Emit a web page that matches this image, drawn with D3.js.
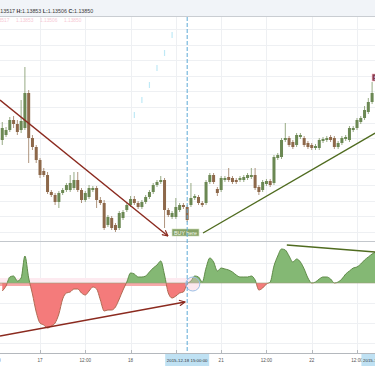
<!DOCTYPE html>
<html>
<head>
<meta charset="utf-8">
<script src="https://cdn.jsdelivr.net/npm/d3@7/dist/d3.min.js"></script>
<style>
html, body { margin: 0; padding: 0; background: #fff; }
svg { display: block; font-family: "Liberation Sans", Arial, sans-serif; }
</style>
</head>
<body>
<svg id="chart" width="375" height="366"></svg>
<script>
// hourly bars, index 0 = 2015-12-17 00:00 (weekend hours skipped)
let firstIndex = -10;

// [open, high, low, close]
let candles = [
  [1.1060, 1.1078, 1.1055, 1.1072], [1.1065, 1.1073, 1.1063, 1.1070], [1.1070, 1.1083, 1.1068, 1.1080],
  [1.1080, 1.1084, 1.1072, 1.1076], [1.1076, 1.1080, 1.1065, 1.1068], [1.1070, 1.1100, 1.1067, 1.1079],
  [1.1072, 1.1133, 1.1070, 1.1107], [1.1107, 1.1110, 1.1037, 1.1062], [1.1062, 1.1065, 1.1050, 1.1053],
  [1.1053, 1.1055, 1.1037, 1.1040],
  [1.1040, 1.1042, 1.1022, 1.1025], [1.1029, 1.1032, 1.1023, 1.1025], [1.1025, 1.1028, 1.1006, 1.1008],
  [1.1008, 1.1010, 1.1003, 1.1005], [1.1005, 1.1007, 1.0995, 1.0998], [1.0998, 1.1009, 1.0992, 1.1007],
  [1.1007, 1.1012, 1.1005, 1.1010], [1.1010, 1.1017, 1.1008, 1.1015], [1.1010, 1.1025, 1.1008, 1.1017],
  [1.1012, 1.1028, 1.1010, 1.1020],
  [1.1020, 1.1028, 1.1008, 1.1010], [1.1010, 1.1012, 1.0997, 1.1000], [1.1000, 1.1009, 1.0998, 1.1007],
  [1.1003, 1.1015, 1.1001, 1.1012], [1.1010, 1.1014, 1.1008, 1.1012], [1.1012, 1.1014, 1.0992, 1.1000],
  [1.1000, 1.1003, 1.0995, 1.0997], [1.0997, 1.1000, 1.0970, 1.0972], [1.0975, 1.0985, 1.0973, 1.0983],
  [1.0982, 1.0984, 1.0970, 1.0972],
  [1.0975, 1.0977, 1.0968, 1.0970], [1.0972, 1.0989, 1.0970, 1.0987], [1.0982, 1.0990, 1.0980, 1.0988],
  [1.0990, 1.0997, 1.0988, 1.0995], [1.0995, 1.1004, 1.0993, 1.1001], [1.1001, 1.1004, 1.0995, 1.0997],
  [1.0997, 1.0999, 1.0991, 1.0993], [1.0993, 1.1000, 1.0991, 1.0998], [1.0998, 1.1005, 1.0996, 1.1003],
  [1.1003, 1.1010, 1.1001, 1.1008],
  [1.1008, 1.1017, 1.1006, 1.1015], [1.1015, 1.1020, 1.1013, 1.1018], [1.1018, 1.1024, 1.1016, 1.1020],
  [1.1020, 1.1022, 1.0972, 1.0990], [1.0990, 1.0992, 1.0983, 1.0985], [1.0983, 1.0989, 1.0981, 1.0987],
  [1.0983, 1.1002, 1.0981, 1.0993], [1.0990, 1.0997, 1.0988, 1.0995], [1.0995, 1.0997, 1.0991, 1.0993],
  [1.0993, 1.0995, 1.0978, 1.0980],
  [1.0995, 1.1017, 1.0993, 1.1002], [1.1002, 1.1006, 1.1000, 1.1004], [1.1003, 1.1005, 1.0995, 1.0997],
  [1.0997, 1.0999, 1.0993, 1.0995], [1.0997, 1.1020, 1.0995, 1.1018], [1.1018, 1.1027, 1.1016, 1.1025],
  [1.1025, 1.1027, 1.1016, 1.1018], [1.1011, 1.1013, 1.1004, 1.1007], [1.1010, 1.1024, 1.1008, 1.1022],
  [1.1020, 1.1024, 1.1018, 1.1022],
  [1.1023, 1.1032, 1.1018, 1.1020], [1.1022, 1.1024, 1.1016, 1.1018], [1.1020, 1.1022, 1.1016, 1.1018],
  [1.1020, 1.1024, 1.1018, 1.1022], [1.1020, 1.1025, 1.1018, 1.1023], [1.1022, 1.1027, 1.1020, 1.1025],
  [1.1023, 1.1032, 1.1021, 1.1025], [1.1025, 1.1032, 1.1010, 1.1012], [1.1013, 1.1015, 1.1005, 1.1008],
  [1.1010, 1.1020, 1.1008, 1.1018],
  [1.1016, 1.1021, 1.1014, 1.1019], [1.1019, 1.1021, 1.1013, 1.1015], [1.1017, 1.1045, 1.1015, 1.1043],
  [1.1042, 1.1047, 1.1040, 1.1045], [1.1043, 1.1062, 1.1041, 1.1060], [1.1060, 1.1077, 1.1058, 1.1062],
  [1.1062, 1.1064, 1.1053, 1.1055], [1.1058, 1.1060, 1.1051, 1.1053], [1.1055, 1.1067, 1.1053, 1.1065],
  [1.1063, 1.1067, 1.1061, 1.1065],
  [1.1062, 1.1064, 1.1053, 1.1055], [1.1057, 1.1059, 1.1051, 1.1053], [1.1055, 1.1057, 1.1050, 1.1052],
  [1.1052, 1.1056, 1.1050, 1.1054], [1.1052, 1.1062, 1.1050, 1.1060], [1.1059, 1.1063, 1.1057, 1.1061],
  [1.1060, 1.1064, 1.1058, 1.1062], [1.1063, 1.1065, 1.1058, 1.1060], [1.1062, 1.1064, 1.1051, 1.1053],
  [1.1053, 1.1059, 1.1051, 1.1057],
  [1.1057, 1.1064, 1.1055, 1.1062], [1.1061, 1.1065, 1.1059, 1.1063], [1.1060, 1.1074, 1.1058, 1.1072],
  [1.1070, 1.1074, 1.1068, 1.1072], [1.1072, 1.1082, 1.1070, 1.1080], [1.1078, 1.1084, 1.1076, 1.1082],
  [1.1082, 1.1094, 1.1080, 1.1090], [1.1088, 1.1102, 1.1086, 1.1098], [1.1098, 1.1118, 1.1096, 1.1107]
];

// oscillator, same hourly index, starting at firstIndex
let oscValues = [
  -8, -3, 6, 7, 2, 5, 27, 5, -11, -29,
  -40, -42, -45, -43, -40, -31, -16, -10, -9, -6,
  -6, -10, -12, -8, -4, -6, -17, -28, -27, -27,
  -24, -16, -7, 1, 10, 9, 6, 6, 7, 11,
  15, 18, 22, 8, -10, -15, -13, -10, -9, -1,
  2, 7, 6, 1, 15, 25, 21, 12, 15, 14,
  13, 11, 8, 6, 6, 6, 7, 3, -7, -5,
  -1, 1, 17, 27, 34, 33, 27, 21, 24, 21,
  14, 5, 0, 1, 4, 6, 6, 4, 0, 1,
  4, 9, 12, 15, 16, 19, 23, 26, 29, 31
];

let tickIndex = [-12, 0, 12, 24, 36, 48, 60, 72, 84];
let tickLabels = ["12:00", "17", "12:00", "18", "12:00", "21", "12:00", "22", "12:00"];

let cursorIndex = 39;
let cursorLabel = "2015-12-18 15:00:00";
let lastIndex = 91;
let lastLabel = "2015-12-22 19:00:00";

let headerKeys = ["O:", "H:", "L:", "C:"];
let headerValues = ["1.13517", "1.13853", "1.13506", "1.13850"];

// drawings: [index, price] / [index, osc value]
let downTrend = [[-10.6, 1.1100], [33.9, 1.0964]];
let upTrend = [[43.2, 1.0967], [88.8, 1.1067]];
let oscUpArrow = [[-10.6, -53], [38.4, -19]];
let oscDownLine = [[65.4, 38], [88.8, 31]];
let buyLabel = { index: 35, price: 1.09675, text: "BUY here" };
let sellLabel = { index: 88, price: 1.11225, text: "SELL here" };
let oscMarker = [40.5, -1];
let ghostTicks = [[25, 1.1085], [27, 1.1100], [29, 1.1115], [31, 1.1132], [33, 1.1147], [35, 1.1165]];

let svg = d3.select("#chart"),
    width = +svg.attr("width"),
    height = +svg.attr("height");

let mainTop = 17, mainBottom = 241, oscTop = 241, oscBottom = 353;

let x = d3.scaleLinear().domain([0, 84]).range([40, 357]);
let y = d3.scaleLinear().domain([1.0960, 1.1183]).range([240, 17]);
let yOsc = d3.scaleLinear().domain([-70, 40]).range([353, 243]);

let defs = svg.append("defs");
defs.append("clipPath").attr("id", "above")
  .append("rect").attr("x", 0).attr("y", oscTop).attr("width", width).attr("height", yOsc(0) - oscTop);
defs.append("clipPath").attr("id", "below")
  .append("rect").attr("x", 0).attr("y", yOsc(0)).attr("width", width).attr("height", oscBottom - yOsc(0));
defs.append("clipPath").attr("id", "mainClip")
  .append("rect").attr("x", 0).attr("y", mainTop).attr("width", width).attr("height", mainBottom - mainTop);

function arrow(id, color) {
  defs.append("marker")
    .attr("id", id)
    .attr("viewBox", "0 0 10 10")
    .attr("refX", 9).attr("refY", 5)
    .attr("markerWidth", 7).attr("markerHeight", 7)
    .attr("markerUnits", "userSpaceOnUse")
    .attr("orient", "auto")
    .append("path")
    .attr("d", "M1,1 L9,5 L1,9")
    .attr("fill", "none")
    .attr("stroke", color)
    .attr("stroke-width", 1.6);
}
arrow("redArrow", "#8b2a1f");

// grid
let grid = svg.append("g");
let priceGrid = d3.range(1.1171, 1.0960, -0.00156);
grid.selectAll(".hg")
  .data(priceGrid)
  .enter().append("line")
  .attr("x1", 0).attr("x2", width)
  .attr("y1", function(d) { return Math.round(y(d)) + 0.5; })
  .attr("y2", function(d) { return Math.round(y(d)) + 0.5; })
  .attr("stroke", "#eef0f3");
grid.selectAll(".og")
  .data([20, -20, -40, -60])
  .enter().append("line")
  .attr("x1", 0).attr("x2", width)
  .attr("y1", function(d) { return Math.round(yOsc(d)) + 0.5; })
  .attr("y2", function(d) { return Math.round(yOsc(d)) + 0.5; })
  .attr("stroke", "#eef0f3");
grid.selectAll(".vg")
  .data(tickIndex)
  .enter().append("line")
  .attr("x1", function(d) { return Math.round(x(d)) + 0.5; })
  .attr("x2", function(d) { return Math.round(x(d)) + 0.5; })
  .attr("y1", mainTop).attr("y2", oscBottom)
  .attr("stroke", "#eef0f3");

// pink band along the zero line left of the cursor
svg.append("rect")
  .attr("x", 0).attr("width", x(cursorIndex))
  .attr("y", yOsc(5)).attr("height", yOsc(0) - yOsc(5))
  .attr("fill", "#fdeaf0");
svg.append("rect")
  .attr("x", 0).attr("width", x(cursorIndex))
  .attr("y", yOsc(0)).attr("height", yOsc(-3) - yOsc(0))
  .attr("fill", "#f6a9a9");

// oscillator
let oscData = oscValues.map(function(v, i) { return { i: firstIndex + i, v: v }; });
let area = d3.area()
  .curve(d3.curveMonotoneX)
  .x(function(d) { return x(d.i); })
  .y0(yOsc(0))
  .y1(function(d) { return yOsc(d.v); });
let line = d3.line()
  .curve(d3.curveMonotoneX)
  .x(function(d) { return x(d.i); })
  .y(function(d) { return yOsc(d.v); });

svg.append("path").datum(oscData)
  .attr("clip-path", "url(#above)")
  .attr("d", area).attr("fill", "#84b874");
svg.append("path").datum(oscData)
  .attr("clip-path", "url(#below)")
  .attr("d", area).attr("fill", "#f47b7b");
svg.append("path").datum(oscData)
  .attr("clip-path", "url(#above)")
  .attr("d", line).attr("fill", "none").attr("stroke", "#5f8b48").attr("stroke-width", 1);
svg.append("path").datum(oscData)
  .attr("clip-path", "url(#below)")
  .attr("d", line).attr("fill", "none").attr("stroke", "#b06a52").attr("stroke-width", 1);

svg.append("line")
  .attr("x1", 0).attr("x2", width)
  .attr("y1", yOsc(0)).attr("y2", yOsc(0))
  .attr("stroke", "#9aa07a").attr("stroke-width", 0.6);

// ghost ticks
svg.append("g").selectAll("line")
  .data(ghostTicks)
  .enter().append("line")
  .attr("x1", function(d) { return x(d[0]); })
  .attr("x2", function(d) { return x(d[0]); })
  .attr("y1", function(d) { return y(d[1]) - 3; })
  .attr("y2", function(d) { return y(d[1]) + 3; })
  .attr("stroke", "#bfe9f6").attr("stroke-width", 1.2);

// candles
let candleData = candles.map(function(c, i) {
  return { i: firstIndex + i, o: c[0], h: c[1], l: c[2], c: c[3] };
});
let cg = svg.append("g").attr("clip-path", "url(#mainClip)");
let bar = cg.selectAll(".candle")
  .data(candleData)
  .enter().append("g")
  .attr("class", "candle");
bar.append("line")
  .attr("x1", function(d) { return x(d.i); })
  .attr("x2", function(d) { return x(d.i); })
  .attr("y1", function(d) { return y(d.h); })
  .attr("y2", function(d) { return y(d.l); })
  .attr("stroke", function(d) { return d.c >= d.o ? "#7d9566" : "#9a7a5e"; })
  .attr("stroke-width", 0.8);
bar.append("rect")
  .attr("x", function(d) { return x(d.i) - 1.5; })
  .attr("width", 3)
  .attr("y", function(d) { return y(Math.max(d.o, d.c)); })
  .attr("height", function(d) { return Math.max(1, Math.abs(y(d.o) - y(d.c))); })
  .attr("fill", function(d) { return d.c >= d.o ? "#6b8853" : "#8d684a"; });

// trend lines
function seg(pts, sx, sy) {
  return "M" + sx(pts[0][0]) + "," + sy(pts[0][1]) + "L" + sx(pts[1][0]) + "," + sy(pts[1][1]);
}
svg.append("path").attr("d", seg(downTrend, x, y))
  .attr("stroke", "#8b2a1f").attr("stroke-width", 1.4).attr("fill", "none")
  .attr("marker-end", "url(#redArrow)");
svg.append("path").attr("d", seg(upTrend, x, y))
  .attr("stroke", "#4f6b1f").attr("stroke-width", 1.4).attr("fill", "none");
svg.append("path").attr("d", seg(oscUpArrow, x, yOsc))
  .attr("stroke", "#8b2a1f").attr("stroke-width", 1.4).attr("fill", "none")
  .attr("marker-end", "url(#redArrow)");
svg.append("path").attr("d", seg(oscDownLine, x, yOsc))
  .attr("stroke", "#4f6b1f").attr("stroke-width", 1.4).attr("fill", "none");

// labels
function tag(lbl, fill, stroke, color) {
  let g = svg.append("g");
  let bx = x(lbl.index), by = y(lbl.price);
  let t = g.append("text")
    .attr("x", bx + 2).attr("y", by + 2)
    .attr("font-size", "5.3px").attr("fill", color)
    .text(lbl.text);
  let w = t.node().getComputedTextLength() + 4;
  g.insert("rect", "text")
    .attr("x", bx).attr("y", by - 3.5)
    .attr("width", w).attr("height", 7)
    .attr("fill", fill).attr("stroke", stroke).attr("stroke-width", 0.6);
}
tag(buyLabel, "#86a267", "#c9d9b4", "#f4f8ee");
tag(sellLabel, "#8a3c4c", "#f2b4c4", "#fbe9ee");

// marker circle on the oscillator
svg.append("circle")
  .attr("cx", x(oscMarker[0])).attr("cy", yOsc(oscMarker[1]))
  .attr("r", 7)
  .attr("fill", "rgba(245,190,210,0.35)")
  .attr("stroke", "#9cc0e6").attr("stroke-width", 1);

// pane separator and crosshair
svg.append("line")
  .attr("x1", 0).attr("x2", width).attr("y1", oscTop + 0.5).attr("y2", oscTop + 0.5)
  .attr("stroke", "#c3c7cc");
svg.append("line")
  .attr("x1", x(cursorIndex)).attr("x2", x(cursorIndex))
  .attr("y1", mainTop).attr("y2", oscBottom)
  .attr("stroke", "#5ca9d6").attr("stroke-width", 1)
  .attr("stroke-dasharray", "4,2");

// time axis
svg.append("line")
  .attr("x1", 0).attr("x2", width).attr("y1", oscBottom + 0.5).attr("y2", oscBottom + 0.5)
  .attr("stroke", "#b4b8bd");
let ax = svg.append("g");
ax.selectAll(".tk")
  .data(tickIndex)
  .enter().append("line")
  .attr("x1", function(d) { return Math.round(x(d)) + 0.5; })
  .attr("x2", function(d) { return Math.round(x(d)) + 0.5; })
  .attr("y1", oscBottom - 3).attr("y2", oscBottom)
  .attr("stroke", "#b4b8bd");
// labels under the crosshair box are hidden, as on the platform
let shownTicks = tickIndex.map(function(d, i) { return { d: d, t: tickLabels[i] }; })
  .filter(function(e) { return Math.abs(x(e.d) - x(cursorIndex)) > 24; });
ax.selectAll(".tl")
  .data(shownTicks)
  .enter().append("text")
  .attr("x", function(e) { return x(e.d); })
  .attr("y", 362)
  .attr("text-anchor", "middle")
  .attr("font-size", "4.6px")
  .attr("fill", "#555")
  .text(function(e) { return e.t; });

function timeBox(idx, label) {
  let cx = x(idx);
  svg.append("rect")
    .attr("x", cx - 22).attr("y", oscBottom + 1)
    .attr("width", 44).attr("height", height - oscBottom - 1)
    .attr("fill", "#bfe1f3");
  svg.append("text")
    .attr("x", cx).attr("y", 362)
    .attr("text-anchor", "middle")
    .attr("font-size", "4.4px")
    .attr("fill", "#333")
    .text(label);
}
timeBox(cursorIndex, cursorLabel);
timeBox(lastIndex, lastLabel);

// header
svg.append("rect")
  .attr("x", 0).attr("y", 0).attr("width", width).attr("height", mainTop - 1)
  .attr("fill", "#f1f4f8");
svg.append("line")
  .attr("x1", 0).attr("x2", width).attr("y1", mainTop - 0.5).attr("y2", mainTop - 0.5)
  .attr("stroke", "#c9cdd2");
let ht = svg.append("text")
  .attr("x", -10).attr("y", 13)
  .attr("font-size", "5.3px")
  .attr("fill", "#3a3a3a");
headerKeys.forEach(function(k, i) {
  ht.append("tspan").attr("font-weight", "bold").text((i ? " " : "") + k);
  ht.append("tspan").text(headerValues[i]);
});
svg.append("g").selectAll("text")
  .data(headerValues)
  .enter().append("text")
  .attr("x", function(d, i) { return -8 + i * 24; })
  .attr("y", 21.5)
  .attr("font-size", "4.8px")
  .attr("fill", "#f6c9d5")
  .text(function(d) { return d; });
</script>
</body>
</html>
